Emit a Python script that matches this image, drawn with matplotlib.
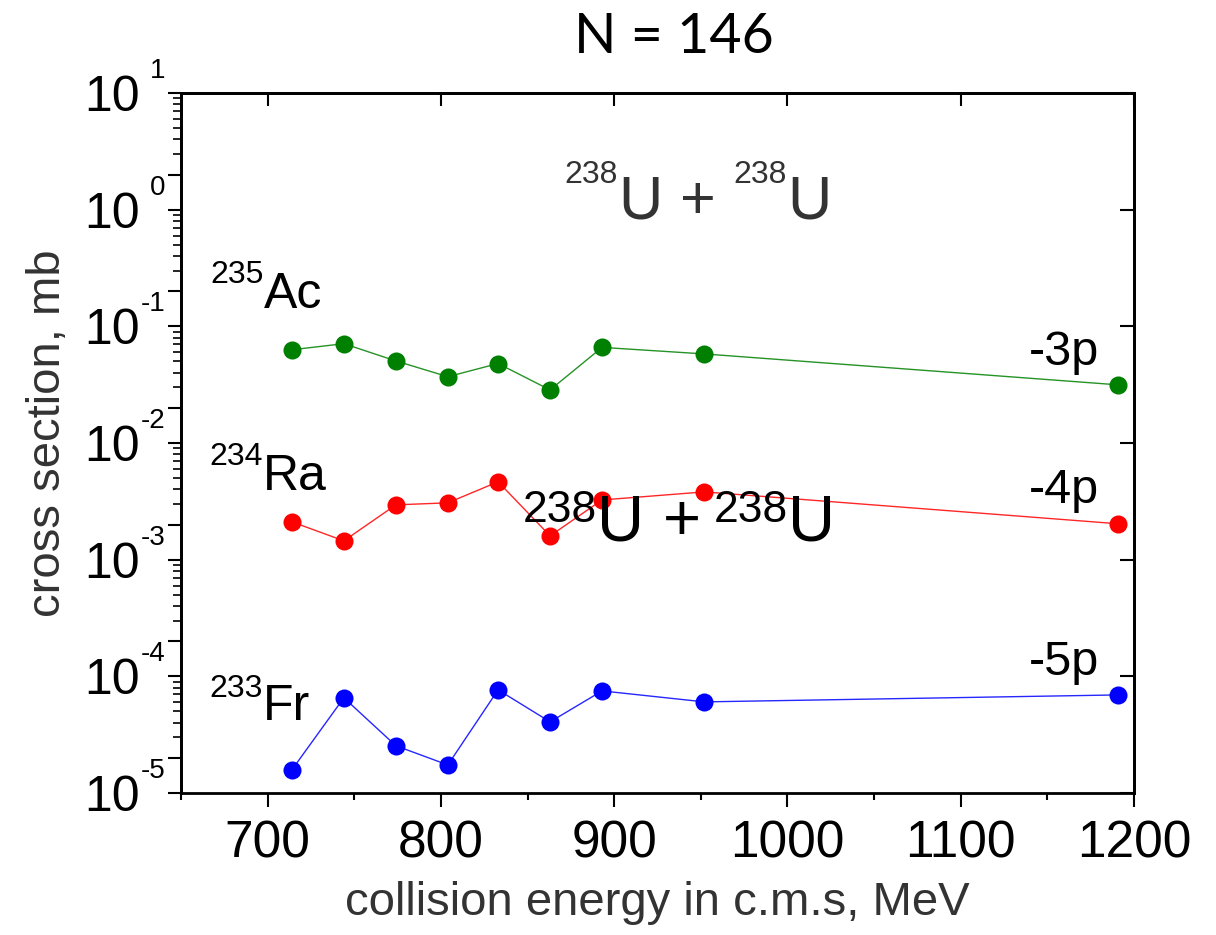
import numpy as np
import matplotlib
matplotlib.use('Agg')
import matplotlib.pyplot as plt
from matplotlib.ticker import LogLocator, MultipleLocator, NullLocator, FuncFormatter, NullFormatter

# данные
energy = [714, 744, 774, 804, 833, 863, 893, 952, 1191]
ac235 = [0.063, 0.071, 0.0505, 0.037, 0.048, 0.0285, 0.066, 0.058, 0.0315]
ra234 = [0.00211, 0.00145, 0.00295, 0.00307, 0.00465, 0.0016, 0.00325, 0.00381, 0.00203]
fr233 = [1.58e-5, 6.55e-5, 2.54e-5, 1.74e-5, 7.66e-5, 4.07e-5, 7.5e-5, 6.04e-5, 6.93e-5]
decades = [-5, -4, -3, -2, -1, 0, 1]
xticks = [700, 800, 900, 1000, 1100, 1200]

plt.rcParams['font.family'] = ['Liberation Sans', 'DejaVu Sans']


def iso_label(ax, fx, fy, mass, sym, size, sup_size, rise, color='black'):
    # символ + массовое число сверху слева
    ax.text(fx, fy, sym, transform=ax.transAxes, fontsize=size, color=color,
            ha='left', va='baseline')
    ax.annotate(mass, xy=(fx, fy), xycoords='axes fraction', xytext=(0, rise),
                textcoords='offset points', fontsize=sup_size, color=color,
                ha='right', va='baseline')


fig = plt.figure(figsize=(12.16, 9.35), dpi=100)
ax = fig.add_axes([0.14885, 0.15187, 0.78372, 0.74866])

series = [(ac235, 'green'), (ra234, 'red'), (fr233, 'blue')]
for vals, col in series:
    ax.plot(energy, vals, '-', color=col, lw=1.0, alpha=0.85, zorder=2)
    ax.plot(energy, vals, 'o', color=col, ms=13, mec='none', zorder=3)

ax.set_yscale('log')
ax.set_ylim(1e-5, 10)
ax.set_xlim(650, 1200)

ax.xaxis.set_major_locator(MultipleLocator(100))
ax.xaxis.set_minor_locator(MultipleLocator(50))
ax.yaxis.set_major_locator(LogLocator(base=10, numticks=10))
ax.yaxis.set_minor_locator(LogLocator(base=10, subs=np.arange(3, 10), numticks=10))
ax.yaxis.set_major_formatter(FuncFormatter(lambda v, p: '10'))
ax.yaxis.set_minor_formatter(NullFormatter())

ax.tick_params(axis='x', which='major', direction='out', length=10, width=1.5,
               labelsize=37, pad=9, top=False)
ax.tick_params(axis='x', which='minor', direction='out', length=5, width=1.5, top=False)
ax.tick_params(axis='y', which='major', direction='out', length=9.5, width=1.5,
               labelsize=36, pad=20, right=False)
ax.tick_params(axis='y', which='minor', direction='out', length=5.5, width=1.2, right=False)

for s in ax.spines.values():
    s.set_linewidth(2)

# длинные засечки на 2*10^n слева
left2 = ax.secondary_yaxis('left')
left2.set_yticks([2 * 10.0 ** e for e in decades[:-1]])
left2.yaxis.set_minor_locator(NullLocator())
left2.yaxis.set_major_formatter(NullFormatter())
left2.tick_params(axis='y', which='major', direction='out', length=9.5, width=1.5)
left2.spines['left'].set_linewidth(2)

# показатели степени у подписей оси y
for e in decades:
    ax.annotate(str(e), xy=(0, 10.0 ** e), xycoords=('axes fraction', 'data'),
                xytext=(-11.5, 10.8), textcoords='offset points',
                fontsize=20, ha='right', va='baseline')

# верхняя и правая оси: только большие засечки внутрь
top = ax.secondary_xaxis('top')
top.set_xticks(xticks)
top.xaxis.set_minor_locator(NullLocator())
top.xaxis.set_major_formatter(NullFormatter())
top.tick_params(axis='x', direction='in', length=9.5, width=1.5)
top.spines['top'].set_linewidth(2)

right = ax.secondary_yaxis('right')
right.set_yticks([10.0 ** e for e in decades])
right.yaxis.set_minor_locator(NullLocator())
right.yaxis.set_major_formatter(NullFormatter())
right.tick_params(axis='y', which='major', direction='in', length=10, width=1.5)
right.spines['right'].set_linewidth(2)

ax.set_xlabel('collision energy in c.m.s, MeV', fontsize=34, color='#333333')
ax.xaxis.set_label_coords(0.5, -0.125)
ax.set_ylabel('cross section, mb', fontsize=34, color='#333333')
ax.yaxis.set_label_coords(-0.1165, 0.514)

fig.text(0.554, 1 - 53 / 935, 'N = 146', ha='center', va='baseline',
         fontsize=40, family='Lato')

# подписи ядер
iso_label(ax, 0.0871, 0.6929, '235', 'Ac', 36, 23, 18)
iso_label(ax, 0.0860, 0.4329, '234', 'Ra', 36, 23, 18)
iso_label(ax, 0.0860, 0.1043, '233', 'Fr', 36, 23, 16.5)

for fy, txt in [(0.6114, '-3p'), (0.4143, '-4p'), (0.1686, '-5p')]:
    ax.text(0.9633, fy, txt, transform=ax.transAxes, fontsize=35,
            ha='right', va='baseline')

# реакция (серым вверху)
iso_label(ax, 0.4585, 0.8214, '238', 'U', 44, 23, 25, '#333333')
ax.text(0.5425, 0.8214, '+', transform=ax.transAxes, fontsize=44,
        color='#333333', ha='center', va='baseline')
iso_label(ax, 0.6359, 0.8214, '238', 'U', 44, 23, 25, '#333333')

# реакция (чёрным поверх красной кривой)
iso_label(ax, 0.4365, 0.3614, '238', 'U', 47, 32, 13)
ax.text(0.5257, 0.3614, '+', transform=ax.transAxes, fontsize=47,
        ha='center', va='baseline')
iso_label(ax, 0.6370, 0.3614, '238', 'U', 47, 32, 13)

fig.savefig('out.png', dpi=100)
